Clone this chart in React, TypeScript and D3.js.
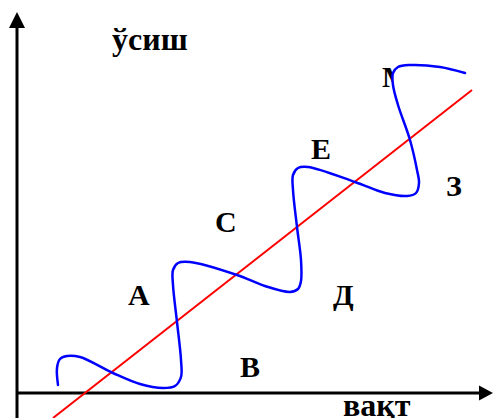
import React from "react";
import * as d3 from "d3";

const W = 493;
const H = 418;

// wave curve (time, growth) in chart units
const waveTime = [41, 40, 43, 50, 63, 96, 123, 146, 158, 164, 164, 160, 156, 156, 161, 173, 220, 248, 273, 281, 284, 284, 280, 276, 276, 281, 291, 338, 368, 390, 399, 402, 400, 393, 381, 376, 376, 381, 393, 423, 448];
const waveGrowth = [8, 25, 34, 37, 36, 20, 9, 5, 7, 16, 33, 71, 108, 123, 130, 131, 118, 107, 101, 104, 112, 133, 166, 203, 218, 225, 226, 211, 200, 197, 200, 210, 223, 253, 288, 308, 320, 326, 328, 326, 320];

// trend line
const trendTime = [36, 455];
const trendGrowth = [-25, 303];

const labels = ["A", "B", "C", "Д", "E", "З"];
const labelTime = [111, 223, 198, 316, 294, 429];
const labelGrowth = [88, 16, 161, 88, 234, 197];

const yTitle = "ўсиш";
const xTitle = "вақт";

export default function App() {
  const x = d3.scaleLinear().domain([0, 476]).range([17, 493]);
  const y = d3.scaleLinear().domain([0, 393]).range([393, 0]);

  const wavePts: [number, number][] = waveTime.map((t, i) => [t, waveGrowth[i]]);
  const wave = d3
    .line<[number, number]>()
    .x((d) => x(d[0]))
    .y((d) => y(d[1]))
    .curve(d3.curveCatmullRom.alpha(0.5))(wavePts);

  const trendPts: [number, number][] = trendTime.map((t, i) => [t, trendGrowth[i]]);
  const trend = d3
    .line<[number, number]>()
    .x((d) => x(d[0]))
    .y((d) => y(d[1]))(trendPts);

  const x0 = x(0);
  const y0 = y(0);
  const font = "'Liberation Serif', 'Times New Roman', serif";

  return (
    <svg
      width={W}
      height={H}
      style={{ position: "absolute", left: 0, top: 0, background: "#fff" }}
    >
      <defs>
        <clipPath id="mclip">
          <rect x={370} y={50} width={23} height={45} />
        </clipPath>
      </defs>
      {/* y axis */}
      <line x1={x0} y1={H} x2={x0} y2={28} stroke="#000" strokeWidth={3} />
      <path d={`M${x0 - 8},28 L${x0 + 8},28 L${x0},12 Z`} fill="#000" />
      {/* x axis */}
      <line x1={x0} y1={y0} x2={479} y2={y0} stroke="#000" strokeWidth={3} />
      <path d={`M479,${y0 - 7.5} L479,${y0 + 7.5} L493,${y0} Z`} fill="#000" />

      <g fontFamily={font} fontWeight="bold" fill="#000">
        <text x={112} y={50} fontSize={32}>{yTitle}</text>
        <text x={343} y={416} fontSize={32}>{xTitle}</text>
        {labels.map((l, i) => (
          <text key={l} x={x(labelTime[i])} y={y(labelGrowth[i])} fontSize={30}>
            {l}
          </text>
        ))}
        <text x={382} y={87} fontSize={30} clipPath="url(#mclip)">M</text>
      </g>

      <path d={trend ?? ""} stroke="#ff0000" strokeWidth={2} fill="none" />
      <path d={wave ?? ""} stroke="#0000ff" strokeWidth={2.5} fill="none" strokeLinecap="round" />
    </svg>
  );
}
